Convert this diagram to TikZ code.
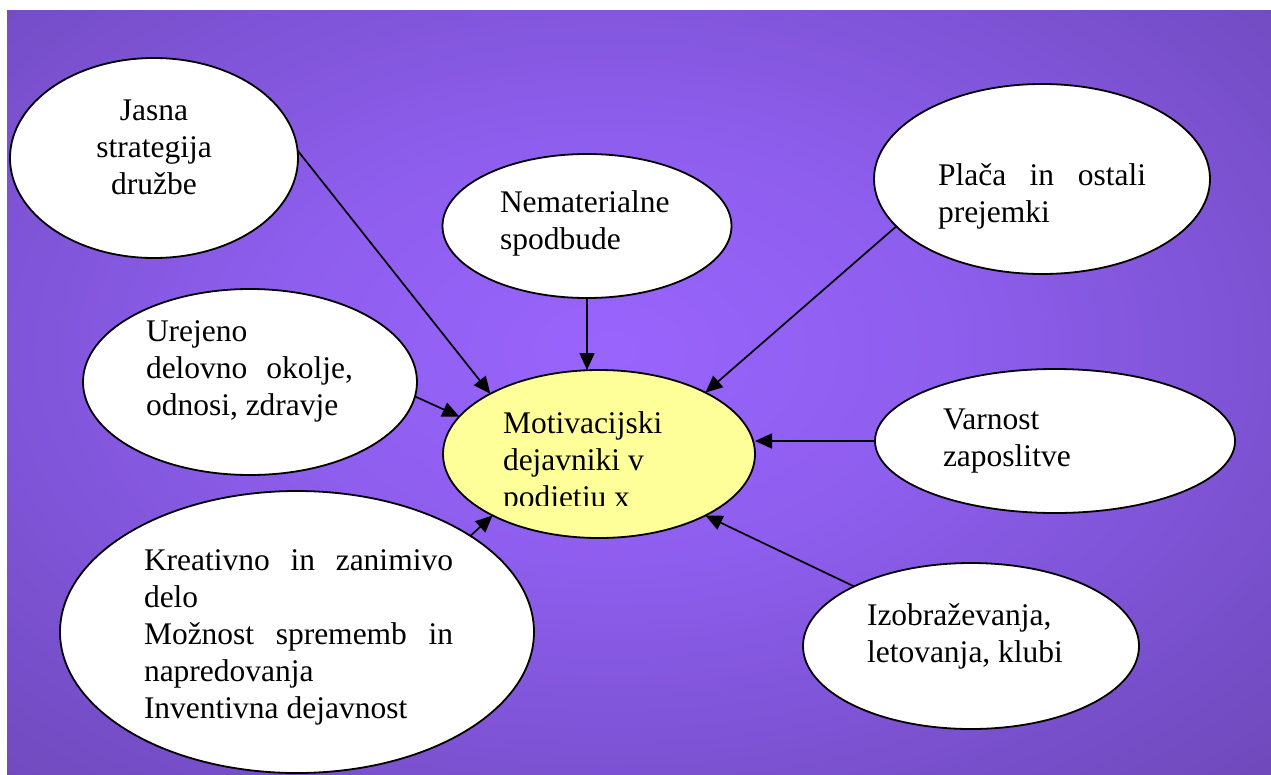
\documentclass[tikz,border=0pt]{standalone}
\usepackage{fontspec}
\setmainfont{Liberation Serif}
\newfontfamily\labelface{Liberation Serif}
\usetikzlibrary{shapes.geometric,arrows.meta}
\definecolor{glowin}{RGB}{153,100,252}
\definecolor{glowmid}{RGB}{142,94,238}
\definecolor{glowlow}{RGB}{118,78,200}
\definecolor{glowout}{RGB}{102,68,168}
\definecolor{hubfill}{RGB}{255,255,153}
\pgfdeclareradialshading{glow}{\pgfpoint{0bp}{0bp}}{color(0bp)=(glowin); color(12bp)=(glowmid); color(28bp)=(glowlow); color(42bp)=(glowout); color(50bp)=(glowout)}
% text block whose reference point is the baseline of its first line
\newcommand\leftlines[2]{\parbox[t]{#1}{\raggedright #2}}
\newcommand\midlines[2]{\parbox[t]{#1}{\centering #2}}

\begin{document}
\begin{tikzpicture}[x=1pt,y=-1pt,
  oval/.style={ellipse, draw=black, line width=1.8pt, fill=white, inner sep=0pt, outer sep=0pt},
  lbl/.style={inner sep=0pt, outer sep=0pt, font=\labelface\fontsize{31.5}{37}\selectfont},
  link/.style={line width=1.7pt, -{Triangle[length=17pt,width=15pt]}},
]
\useasboundingbox (0,0) rectangle (1271,774);
\fill[white] (0,0) rectangle (1271,774);

% purple backdrop with a soft glow in the middle
\begin{scope}
  \clip (7,10) rectangle (1271,774);
  \fill[glowout] (0,0) rectangle (1271,774);
  \shade[shading=glow] (-90,-90) rectangle (1310,790);
\end{scope}

% ovals
\node[oval, minimum width=288pt, minimum height=200pt] (jas) at (154,158) {};
\node[oval, minimum width=289pt, minimum height=144pt] (nem) at (587,226) {};
\node[oval, minimum width=336pt, minimum height=190pt] (pla) at (1042,179) {};
\node[oval, minimum width=334pt, minimum height=186pt] (ure) at (250,382) {};
\node[oval, fill=hubfill, minimum width=312pt, minimum height=168pt] (hub) at (599,454) {};
\node[oval, minimum width=360pt, minimum height=144pt] (var) at (1055,441) {};
\node[oval, minimum width=474pt, minimum height=282pt] (kre) at (297,632) {};
\node[oval, minimum width=336pt, minimum height=166pt] (izo) at (971,646) {};

% labels
\node[lbl, anchor=base] (tjas) at (154,120) {\midlines{200pt}{Jasna\\strategija\\družbe}};
\node[lbl, anchor=base west] (tnem) at (500,212) {\leftlines{220pt}{Nematerialne\\spodbude}};
\node[lbl, anchor=base west] (tpla) at (938,185) {\leftlines{240pt}{\makebox[208pt][s]{Plača in ostali}\\prejemki}};
\node[lbl, anchor=base west] (ture) at (146,341) {\leftlines{240pt}{Urejeno\\\makebox[207pt][s]{delovno okolje,}\\odnosi, zdravje}};
\begin{scope}
  \clip (440,380) rectangle (770,505);
  \node[lbl, anchor=base west] (thub) at (503,433) {\leftlines{220pt}{Motivacijski\\dejavniki v\\podjetju x}};
\end{scope}
\node[lbl, anchor=base west] (tvar) at (943,429) {\leftlines{240pt}{Varnost\\zaposlitve}};
\node[lbl, anchor=base west] (tkre) at (144,570) {\leftlines{330pt}{\makebox[309pt][s]{Kreativno in zanimivo}\\delo\\\makebox[309pt][s]{Možnost sprememb in}\\napredovanja\\Inventivna dejavnost}};
\node[lbl, anchor=base west] (tizo) at (867,625) {\leftlines{240pt}{Izobraževanja,\\letovanja, klubi}};

% arrows into the central oval
\draw[link] (jas.3) -- (hub.151);
\draw[link] (nem.south) -- (nem.south |- hub.north);
\draw[link] (pla.198) -- (hub.30);
\draw[link] (ure.-5) -- (hub.165);
\draw[link] (var.west) -- (var.west -| hub.east);
\draw[link] (kre.29) -- (hub.210);
\draw[link] (izo.153) -- (hub.-30);
\end{tikzpicture}
\end{document}
